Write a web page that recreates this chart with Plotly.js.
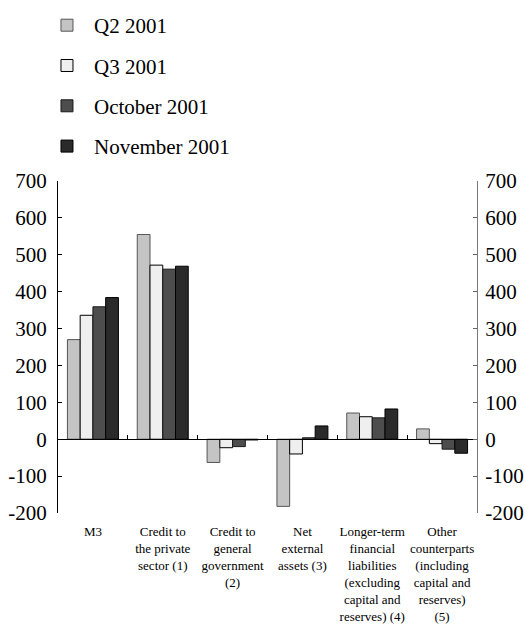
<!DOCTYPE html>
<html><head><meta charset="utf-8">
<script src="https://cdn.plot.ly/plotly-3.0.1.min.js"></script>
<style>html,body{margin:0;padding:0;background:#fff;}#chart{width:525px;height:624px;}</style>
</head><body><div id="chart"></div>
<script>
const categories = [
  "M3",
  "Credit to<br>the private<br>sector (1)",
  "Credit to<br>general<br>government<br>(2)",
  "Net<br>external<br>assets (3)",
  "Longer-term<br>financial<br>liabilities<br>(excluding<br>capital and<br>reserves) (4)",
  "Other<br>counterparts<br>(including<br>capital and<br>reserves)<br>(5)"
];
const seriesNames = ["Q2 2001", "Q3 2001", "October 2001", "November 2001"];
const q2_2001 = [270, 555, -63, -182, 71, 28];
const q3_2001 = [336, 472, -23, -40, 61, -12];
const oct_2001 = [359, 461, -20, 4, 58, -27];
const nov_2001 = [384, 469, -2, 36, 82, -38];
const yTicks = [-200, -100, 0, 100, 200, 300, 400, 500, 600, 700];
const yTickText = ["-200", "-100", "0", "100", "200", "300", "400", "500", "600", "700"];

const colors = ["#c4c4c4", "#efefef", "#4d4d4d", "#2a2a2a"];
const outlines = ["#555555", "#000000", "#1a1a1a", "#000000"];
const values = [q2_2001, q3_2001, oct_2001, nov_2001];
const serif = "Liberation Serif, Times New Roman, serif";

const traces = values.map((v, i) => ({
  type: "bar", x: categories, y: v, name: seriesNames[i],
  legendgroup: "g" + i,
  marker: {color: colors[i], line: {color: outlines[i], width: 1}},
  hoverinfo: "skip"
}));
// transparent copy that carries the zero-line axis and the right-hand axis
traces.push({
  type: "bar", x: categories, y: q2_2001, xaxis: "x2", yaxis: "y2",
  showlegend: false, opacity: 0, hoverinfo: "skip",
  marker: {color: "rgba(0,0,0,0)"}
});

const layout = {
  width: 525, height: 624,
  margin: {l: 58, r: 48, t: 181, b: 111, autoexpand: false},
  paper_bgcolor: "#fff", plot_bgcolor: "#fff",
  font: {family: serif, color: "#000", size: 21},
  barmode: "group", bargap: 0.27, bargroupgap: 0,
  showlegend: true,
  legend: {x: -0.043, xanchor: "left", y: 1.53, yanchor: "top",
           font: {family: serif, size: 21}, tracegroupgap: 10,
           itemwidth: 44,
           traceorder: "grouped", bgcolor: "rgba(0,0,0,0)"},
  xaxis: {type: "category", categoryarray: categories, showline: false,
          ticks: "", showgrid: false, zeroline: false,
          tickfont: {family: serif, size: 13}, ticklabelstandoff: 9},
  xaxis2: {type: "category", categoryarray: categories, matches: "x",
           overlaying: "x", anchor: "free", position: 2/9,
           showline: true, linecolor: "#000", linewidth: 1,
           ticks: "inside", tickson: "boundaries", ticklen: 4, tickcolor: "#000",
           showticklabels: false, showgrid: false, zeroline: false},
  yaxis: {range: [-200, 700], tickvals: yTicks, ticktext: yTickText,
          ticks: "inside", ticklen: 4,
          tickcolor: "#000", showline: true, linecolor: "#000", linewidth: 1,
          showgrid: false, zeroline: false, ticklabelstandoff: 6,
          tickfont: {family: serif, size: 21}},
  yaxis2: {range: [-200, 700], tickvals: yTicks, ticktext: yTickText,
           overlaying: "y", side: "right", anchor: "free", position: 1,
           ticks: "inside", ticklen: 4, tickcolor: "#666", showline: true,
           linecolor: "#777", linewidth: 1, showgrid: false, zeroline: false,
           ticklabelstandoff: 3, tickfont: {family: serif, size: 21}}
};

Plotly.newPlot("chart", traces, layout, {staticPlot: true, displayModeBar: false});
</script></body></html>
